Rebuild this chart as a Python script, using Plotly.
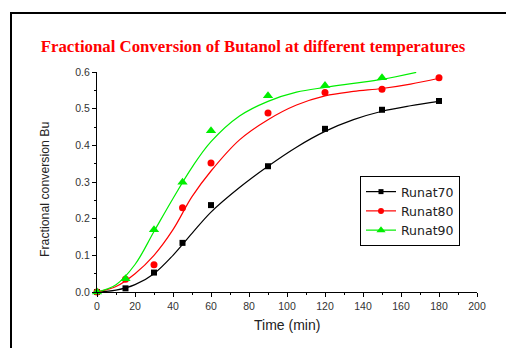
import plotly.graph_objects as go

# Measured data points
t70 = [0, 15, 30, 45, 60, 90, 120, 150, 180]
y70 = [0.0, 0.010, 0.053, 0.134, 0.237, 0.343, 0.445, 0.497, 0.521]
t80 = [0, 15, 30, 45, 60, 90, 120, 150, 180]
y80 = [0.0, 0.035, 0.074, 0.230, 0.352, 0.488, 0.544, 0.553, 0.584]
t90 = [0, 15, 30, 45, 60, 90, 120, 150]
y90 = [0.0, 0.036, 0.170, 0.299, 0.440, 0.535, 0.563, 0.584]

# Fitted curves
ft70 = [0, 10, 20, 30, 40, 50, 60, 75, 90, 105, 120, 135, 150, 165, 180]
fy70 = [0.0, 0.005, 0.02, 0.05, 0.10, 0.16, 0.218, 0.285, 0.343, 0.395, 0.438, 0.470, 0.493, 0.508, 0.520]
ft80 = [0, 10, 20, 30, 40, 50, 60, 75, 90, 105, 120, 135, 150, 165, 180]
fy80 = [0.0, 0.015, 0.05, 0.10, 0.17, 0.26, 0.33, 0.415, 0.47, 0.51, 0.535, 0.547, 0.555, 0.567, 0.583]
ft90 = [0, 10, 20, 30, 40, 50, 60, 75, 90, 105, 120, 135, 150, 168]
fy90 = [0.0, 0.02, 0.075, 0.165, 0.255, 0.34, 0.41, 0.48, 0.52, 0.545, 0.558, 0.569, 0.580, 0.599]

names = ["Runat70", "Runat80", "Runat90"]
colors = ["#000000", "#ff0000", "#00ee00"]
symbols = ["square", "circle", "triangle-up"]
msizes = [6, 7, 9]

fig = go.Figure()
pts = [(t70, y70), (t80, y80), (t90, y90)]
fits = [(ft70, fy70), (ft80, fy80), (ft90, fy90)]
for i in range(3):
    fig.add_trace(go.Scatter(x=fits[i][0], y=fits[i][1], mode="lines",
                             line=dict(color=colors[i], width=1.2, shape="spline", smoothing=1.0),
                             showlegend=False, hoverinfo="skip"))
for i in range(3):
    fig.add_trace(go.Scatter(x=pts[i][0], y=pts[i][1], mode="markers",
                             marker=dict(color=colors[i], symbol=symbols[i], size=msizes[i]),
                             showlegend=False, cliponaxis=False, name=names[i]))
for i in range(3):
    fig.add_trace(go.Scatter(x=[None], y=[None], mode="lines+markers", name=names[i],
                             line=dict(color=colors[i], width=1.2),
                             marker=dict(color=colors[i], symbol=symbols[i], size=msizes[i] - 1)))

sans = "Arial, Liberation Sans, sans-serif"
axis_font = dict(family=sans, size=10.5, color="#333333")
fig.update_layout(
    width=506, height=348,
    margin=dict(l=97, r=29, t=72, b=56),
    paper_bgcolor="white", plot_bgcolor="white",
    title=dict(text="Fractional Conversion of Butanol at different temperatures",
               x=0.5, xref="container", xanchor="center",
               y=1 - 46 / 348, yref="container", yanchor="middle",
               font=dict(family="Times New Roman, Liberation Serif, serif", size=16.8,
                         color="#ff0000", weight="bold")),
    xaxis=dict(range=[0, 200], tick0=0, dtick=20, ticks="outside", ticklen=4, tickwidth=1,
               tickcolor="black", showline=True, linecolor="black", linewidth=1,
               showgrid=False, zeroline=False, tickfont=axis_font,
               minor=dict(dtick=10, ticks="outside", ticklen=2, tickcolor="black")),
    yaxis=dict(range=[0, 0.6], tick0=0, dtick=0.1, tickformat=".1f", ticks="outside", ticklen=4,
               tickwidth=1, tickcolor="black", showline=True, linecolor="black", linewidth=1,
               showgrid=False, zeroline=False, tickfont=axis_font,
               minor=dict(dtick=0.05, ticks="outside", ticklen=2, tickcolor="black")),
    annotations=[
        dict(text="Time (min)", xref="paper", yref="paper",
             x=(287 - 97) / 380, y=(292 - 325) / 220, xanchor="center", yanchor="middle",
             showarrow=False, font=dict(family=sans, size=14, color="#222222")),
        dict(text="Fractional conversion Bu", xref="paper", yref="paper", textangle=-90,
             x=(45 - 97) / 380, y=(292 - 190) / 220, xanchor="center", yanchor="middle",
             showarrow=False, font=dict(family=sans, size=12.3, color="#222222")),
    ],
    legend=dict(x=(360 - 97) / 380, y=(292 - 176) / 220, xanchor="left", yanchor="top",
                bordercolor="black", borderwidth=1, bgcolor="white",
                font=dict(family="DejaVu Sans, sans-serif", size=12.5, color="#222222"),
                tracegroupgap=0, itemsizing="trace"),
    shapes=[dict(type="rect", xref="paper", yref="paper",
                 x0=(11 - 97) / 380, x1=(540 - 97) / 380,
                 y0=(292 - 380) / 220, y1=(292 - 13) / 220,
                 line=dict(color="black", width=2), fillcolor="rgba(0,0,0,0)", layer="below")],
)

fig.write_html("out.html")
